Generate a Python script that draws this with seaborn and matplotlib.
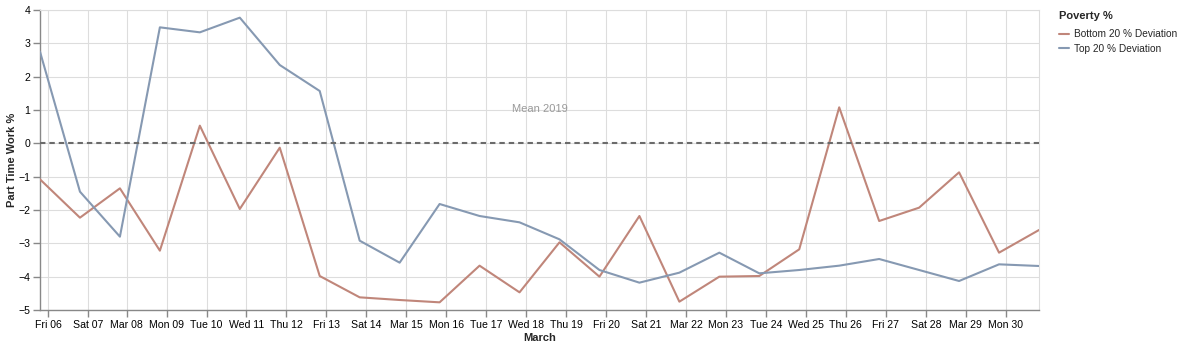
import matplotlib
matplotlib.use("Agg")
import matplotlib.pyplot as plt
import matplotlib.dates as mdates
import seaborn as sns
import pandas as pd
import numpy as np
from matplotlib.lines import Line2D

dates = pd.date_range("2020-03-06", "2020-03-31", freq="D")
bottom20 = [-1.08, -2.23, -1.35, -3.22, 0.53, -1.97, -0.13, -3.98, -4.62, -4.70,
            -4.77, -3.67, -4.47, -2.97, -4.00, -2.18, -4.75, -4.00, -3.98, -3.18,
            1.08, -2.33, -1.93, -0.87, -3.28, -2.60]
top20 = [2.75, -1.45, -2.80, 3.48, 3.33, 3.77, 2.35, 1.57, -2.92, -3.58,
         -1.82, -2.18, -2.37, -2.88, -3.80, -4.18, -3.88, -3.28, -3.90, -3.80,
         -3.67, -3.47, -3.80, -4.13, -3.63, -3.68]
series_names = ["Bottom 20 % Deviation", "Top 20 % Deviation"]
colors = ["#c0867a", "#8699b2"]
tick_labels = ["Fri 06", "Sat 07", "Mar 08", "Mon 09", "Tue 10", "Wed 11", "Thu 12",
               "Fri 13", "Sat 14", "Mar 15", "Mon 16", "Tue 17", "Wed 18", "Thu 19",
               "Fri 20", "Sat 21", "Mar 22", "Mon 23", "Tue 24", "Wed 25", "Thu 26",
               "Fri 27", "Sat 28", "Mar 29", "Mon 30"]
mean_label = "Mean 2019"
mean_value = 0

df = pd.concat([
    pd.DataFrame({"date": dates, "value": bottom20, "Poverty %": series_names[0]}),
    pd.DataFrame({"date": dates, "value": top20, "Poverty %": series_names[1]}),
])

sns.set_theme(style="white")
plt.rcParams["font.family"] = ["Liberation Sans", "DejaVu Sans"]

fig = plt.figure(figsize=(11.8, 3.47), dpi=100)
ax = fig.add_axes([40 / 1180, 1 - 310 / 347, 999 / 1180, 300 / 347])

# local-midnight ticks (data stamped at UTC midnight, shown in US Eastern time)
tick_dates = pd.date_range("2020-03-06", periods=len(tick_labels), freq="D")
offsets = [pd.Timedelta(hours=5) if d < pd.Timestamp("2020-03-08") else pd.Timedelta(hours=4)
           for d in tick_dates]
tick_pos = [mdates.date2num(d + o) for d, o in zip(tick_dates, offsets)]

ax.set_xlim(mdates.date2num(dates[0]), mdates.date2num(dates[-1]))
ax.set_ylim(-5, 4)
ax.set_yticks(np.arange(-5, 5, 1))
ax.set_yticklabels([str(v).replace("-", "\u2212") for v in range(-5, 5)])
ax.set_xticks(tick_pos)
ax.set_xticklabels(tick_labels)
ax.grid(True, color="#dddddd", linewidth=0.8)
ax.set_axisbelow(True)

sns.lineplot(data=df, x="date", y="value", hue="Poverty %", palette=colors,
             hue_order=series_names, linewidth=1.5, ax=ax, legend=False, zorder=3)

ax.axhline(mean_value, color="#6b6b6b", linewidth=1.5, dashes=(2.6, 1.9), zorder=4)
ax.text(mdates.date2num(pd.Timestamp("2020-03-18 12:00")), 1.03, mean_label,
        color="#999999", fontsize=8, ha="center", va="center")

ax.set_xlim(mdates.date2num(dates[0]), mdates.date2num(dates[-1]))
for s in ["top", "right"]:
    ax.spines[s].set_color("#dddddd")
    ax.spines[s].set_linewidth(0.8)
for s in ["left", "bottom"]:
    ax.spines[s].set_color("#888888")
    ax.spines[s].set_linewidth(1)
ax.tick_params(axis="both", which="both", length=5, width=1, color="#888888",
               labelsize=7.6, labelcolor="#000000", pad=2, bottom=True, left=True)

ax.set_xlabel("March", fontsize=8, fontweight="bold", labelpad=2.5)
ax.set_ylabel("Part Time Work %", fontsize=8, fontweight="bold", labelpad=1)

handles = [Line2D([0], [0], color=c, linewidth=1.5) for c in colors]
leg = fig.legend(handles, series_names, title="Poverty %", loc="upper left",
                 bbox_to_anchor=(1055 / 1180, 1 - 7 / 347), frameon=False,
                 fontsize=7.3, title_fontsize=8, handlelength=1.0,
                 handletextpad=0.45, labelspacing=0.45, borderaxespad=0)
leg.get_title().set_fontweight("bold")
leg._legend_box.align = "left"
leg._legend_box.sep = 6

fig.savefig("out.png", dpi=100)
